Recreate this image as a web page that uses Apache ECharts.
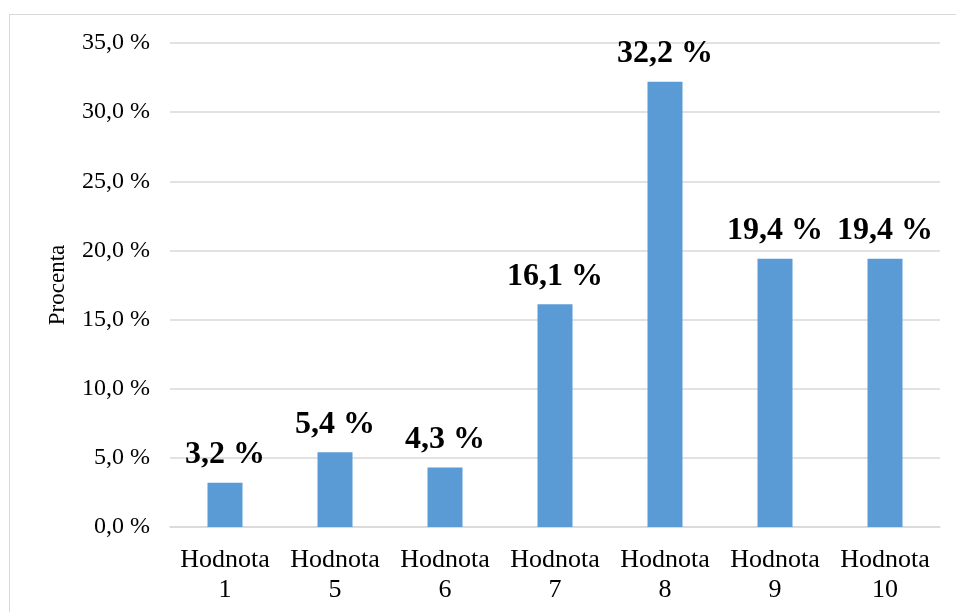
<!DOCTYPE html>
<html>
<head>
<meta charset="utf-8">
<script src="https://cdn.jsdelivr.net/npm/echarts@6/dist/echarts.min.js"></script>
<style>
  html, body { margin: 0; padding: 0; background: #fff; }
  #frame { position: absolute; left: 9px; top: 14px; width: 960px; height: 620px; border: 1px solid #d9d9d9; box-sizing: border-box; }
  #chart { position: absolute; left: 0; top: 0; width: 956px; height: 612px; }
</style>
</head>
<body>
<div id="frame"></div>
<div id="chart"></div>
<script>
const categories = ['Hodnota\n1', 'Hodnota\n5', 'Hodnota\n6', 'Hodnota\n7', 'Hodnota\n8', 'Hodnota\n9', 'Hodnota\n10'];
const values = [3.2, 5.4, 4.3, 16.1, 32.2, 19.4, 19.4];
const yTicks = [0, 5, 10, 15, 20, 25, 30, 35];

const fmt = v => v.toFixed(1).replace('.', ',') + ' %';
const font = '"Liberation Serif", "Times New Roman", serif';

const chart = echarts.init(document.getElementById('chart'));
chart.setOption({
  animation: false,
  textStyle: { fontFamily: font },
  grid: { left: 170, right: 16, top: 43, bottom: 85, containLabel: false },
  xAxis: {
    type: 'category',
    data: categories,
    axisLine: { show: true, lineStyle: { color: '#d9d9d9', width: 1.5 } },
    axisTick: { show: false },
    axisLabel: { color: '#000', fontSize: 26, fontFamily: font, lineHeight: 30, margin: 18, interval: 0 }
  },
  yAxis: {
    type: 'value',
    min: yTicks[0],
    max: yTicks[yTicks.length - 1],
    interval: 5,
    name: 'Procenta',
    nameLocation: 'middle',
    nameGap: 101,
    nameTextStyle: { color: '#000', fontSize: 23, fontFamily: font },
    axisLine: { show: false },
    axisTick: { show: false },
    splitLine: { lineStyle: { color: '#d9d9d9', width: 1.5 } },
    axisLabel: { color: '#000', fontSize: 24, fontFamily: font, margin: 20, formatter: fmt }
  },
  series: [{
    type: 'bar',
    data: values,
    barWidth: 35,
    itemStyle: { color: '#5b9bd5' },
    label: {
      show: true,
      position: 'top',
      distance: 12,
      color: '#000',
      fontSize: 32,
      fontWeight: 'bold',
      fontFamily: font,
      formatter: p => fmt(p.value)
    }
  }]
});
</script>
</body>
</html>
